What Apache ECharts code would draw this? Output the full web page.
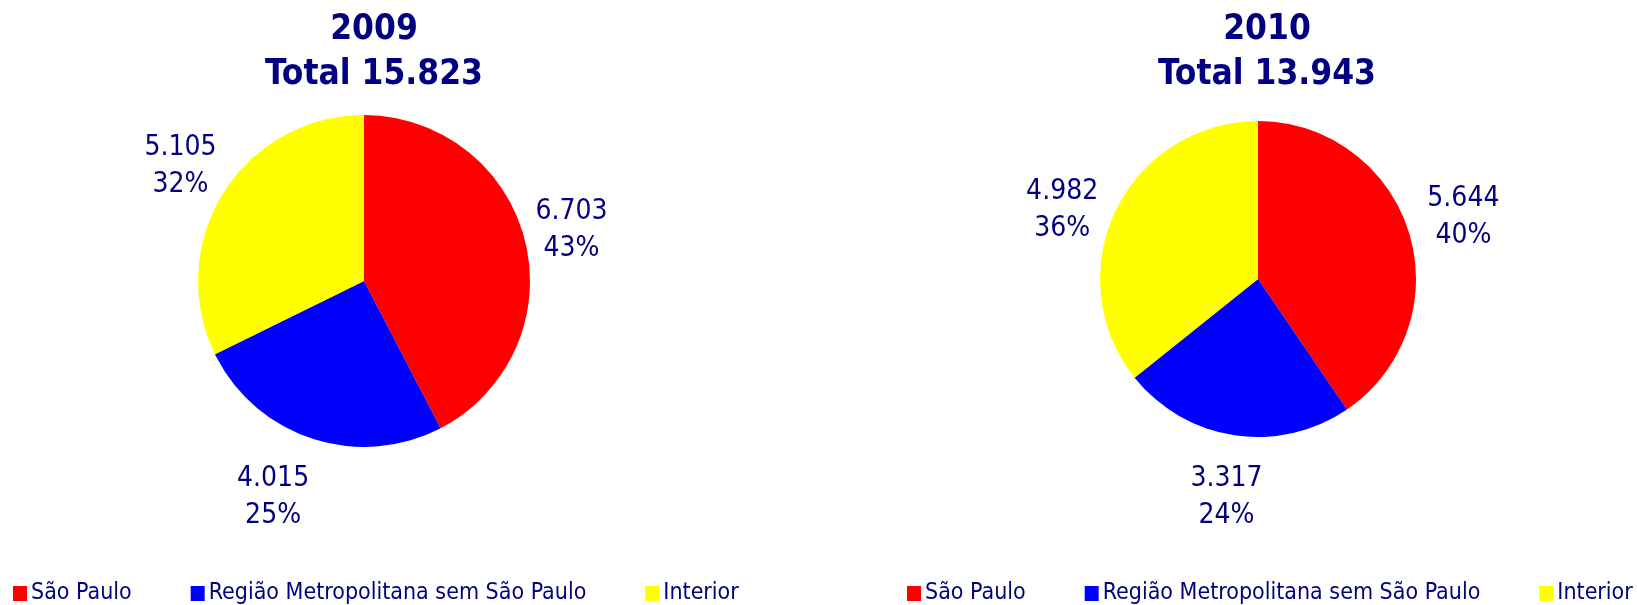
<!DOCTYPE html>
<html>
<head>
<meta charset="utf-8">
<script src="https://cdn.jsdelivr.net/npm/echarts@6/dist/echarts.min.js"></script>
<style>
  html, body { margin: 0; padding: 0; background: #fff; }
  #chart { width: 1637px; height: 605px; }
</style>
</head>
<body>
<div id="chart"></div>
<script>
// data
const years = ['2009', '2010']
const totals = [15823, 13943]
const regions = ['São Paulo', 'Região Metropolitana sem São Paulo', 'Interior']
const values2009 = [6703, 4015, 5105]
const values2010 = [5644, 3317, 4982]
const shares2009 = [43, 25, 32]
const shares2010 = [40, 24, 36]

const colors = ['#FF0000', '#0000FF', '#FFFF00']
const navy = '#000080'
const font = "'DejaVu Sans Condensed', Tahoma, 'DejaVu Sans', sans-serif"

// pie geometry (pixels); labelShift = small hand tweaks to mimic excel "best fit"
const pies = [
    { center: [364, 281], radius: 166, titleX: 374, legendX: 13,
      labelShift: [[-2, 0], [-21, 3], [7, 4]] },
    { center: [1258, 279], radius: 158, titleX: 1267, legendX: 907,
      labelShift: [[5, 0], [0, 9], [-3, 24]] }
]
const labelGap = 4
const labelPadY = 8

const fmt = (v) => String(v).replace(/\B(?=(\d{3})+(?!\d))/g, '.')

const chart = echarts.init(document.getElementById('chart'))

const seriesData = [values2009, values2010]
const seriesShares = [shares2009, shares2010]

function placeLabel(si) {
    const vals = seriesData[si]
    const pie = pies[si]
    const sum = vals.reduce((a, b) => a + b, 0)
    return function (params) {
        let before = 0
        for (let i = 0; i < params.dataIndex; i++) before += vals[i]
        const mid = (before + vals[params.dataIndex] / 2) / sum * Math.PI * 2
        const dx = Math.sin(mid), dy = -Math.cos(mid)
        const w = params.labelRect.width / 2, h = params.labelRect.height / 2 + labelPadY
        const d = pie.radius + labelGap + Math.abs(dx) * w + Math.abs(dy) * h
        const shift = pie.labelShift[params.dataIndex]
        return {
            x: pie.center[0] + dx * d + shift[0],
            y: pie.center[1] + dy * d + shift[1],
            align: 'center',
            verticalAlign: 'middle'
        }
    }
}

const option = {
    backgroundColor: '#fff',
    color: colors,
    animation: false,
    title: years.map((y, i) => ({
        text: y + '\nTotal ' + fmt(totals[i]),
        left: pies[i].titleX,
        top: 7,
        padding: 0,
        textAlign: 'center',
        textStyle: {
            color: navy,
            fontFamily: font,
            fontWeight: 'bold',
            fontSize: 35,
            lineHeight: 45
        }
    })),
    legend: pies.map((p, i) => ({
        left: p.legendX,
        top: 582,
        padding: 0,
        orient: 'horizontal',
        itemWidth: 14,
        itemHeight: 15,
        itemGap: 59,
        icon: 'rect',
        selectedMode: false,
        data: regions,
        textStyle: {
            color: navy,
            fontFamily: font,
            fontSize: 23,
            padding: [0, 0, 0, -1]
        }
    })),
    series: pies.map((p, i) => ({
        type: 'pie',
        center: p.center,
        radius: p.radius,
        startAngle: 90,
        clockwise: true,
        avoidLabelOverlap: false,
        itemStyle: { borderWidth: 0 },
        emphasis: { disabled: true },
        label: {
            show: true,
            position: 'outside',
            color: navy,
            fontFamily: font,
            fontSize: 28,
            lineHeight: 37,
            formatter: (params) => fmt(params.value) + '\n' + seriesShares[i][params.dataIndex] + '%'
        },
        labelLine: { show: false },
        labelLayout: placeLabel(i),
        data: regions.map((name, k) => ({ name: name, value: seriesData[i][k] }))
    }))
}

chart.setOption(option)
</script>
</body>
</html>
